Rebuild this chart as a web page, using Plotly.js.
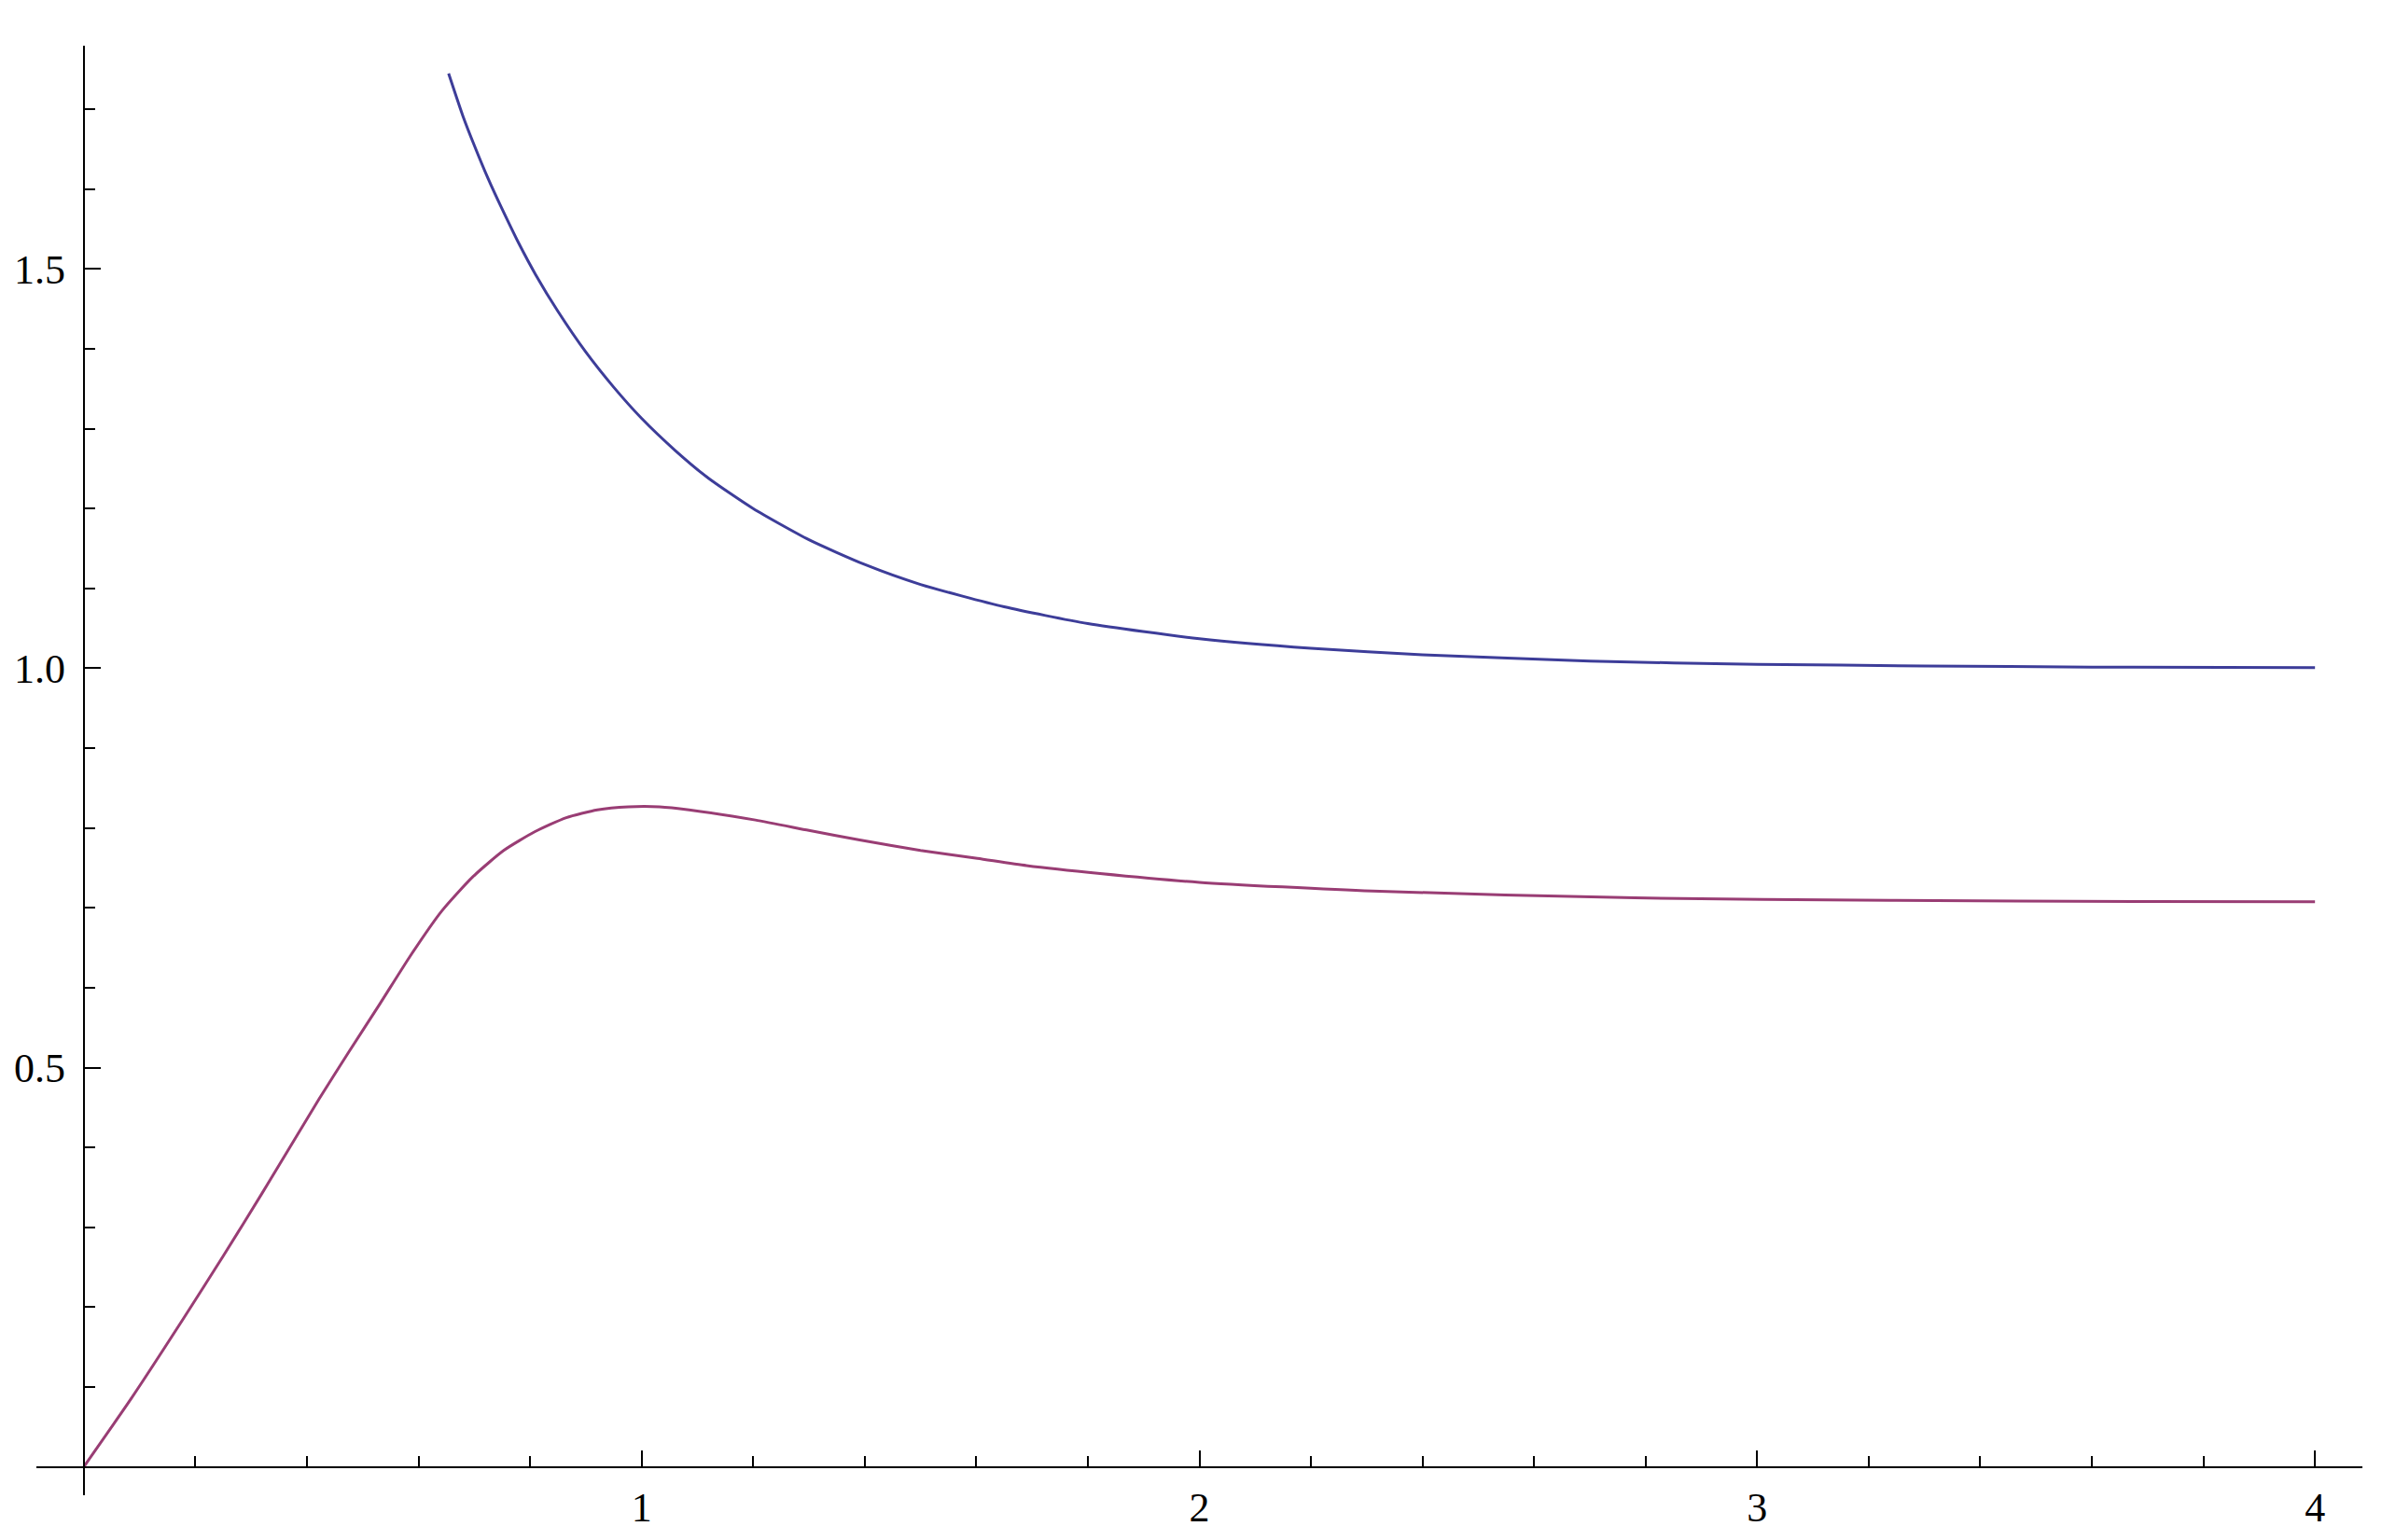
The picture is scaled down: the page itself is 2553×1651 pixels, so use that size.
<!DOCTYPE html>
<html>
<head>
<meta charset="utf-8">
<script src="https://cdn.plot.ly/plotly-3.0.1.min.js"></script>
<style>
  html, body { margin: 0; padding: 0; background: #fff; }
  #plot { width: 2553px; height: 1651px; }
</style>
</head>
<body>
<div id="plot"></div>
<script>
// upper (blue) curve
var blueX = [0.654, 0.68, 0.70, 0.725, 0.75, 0.78, 0.81, 0.85, 0.90, 0.95, 1.0, 1.06, 1.12, 1.2,
             1.3, 1.4, 1.5, 1.65, 1.8, 2.0, 2.2, 2.4, 2.7, 3.0, 3.3, 3.6, 4.0];
var blueY = [1.745, 1.691, 1.655, 1.613, 1.575, 1.532, 1.493, 1.447, 1.396, 1.352, 1.313, 1.273, 1.238, 1.200,
             1.161, 1.130, 1.105, 1.077, 1.056, 1.037, 1.025, 1.017, 1.009, 1.005, 1.003, 1.0015, 1.0007];

// lower (purple) curve
var redX = [0, 0.0855, 0.179, 0.25, 0.32, 0.4217, 0.4746, 0.5304, 0.586, 0.6418, 0.6976, 0.7533, 0.809,
            0.8649, 0.9206, 0.9763, 1.032, 1.085, 1.204, 1.30, 1.391, 1.50, 1.602, 1.69, 1.822, 2.0,
            2.31, 2.78, 3.24, 3.7, 4.0];
var redY = [0, 0.086, 0.186, 0.264, 0.343, 0.4606, 0.519, 0.5793, 0.6405, 0.6961, 0.7390, 0.7721, 0.7955,
            0.8130, 0.8228, 0.8266, 0.8266, 0.8228, 0.810, 0.797, 0.785, 0.772, 0.762, 0.753, 0.743, 0.732,
            0.721, 0.7125, 0.7094, 0.708, 0.7075];

var xTicks = [1, 2, 3, 4];
var xTickText = ['1', '2', '3', '4'];
var yTicks = [0.5, 1.0, 1.5];
var yTickText = ['0.5', '1.0', '1.5'];

var font = { family: 'Liberation Serif, Times New Roman, serif', size: 44, color: '#000' };

var traces = [
  {
    x: blueX, y: blueY, mode: 'lines', type: 'scatter',
    line: { color: '#3d3d99', width: 3, shape: 'spline', smoothing: 0.6 },
    hoverinfo: 'skip'
  },
  {
    x: redX, y: redY, mode: 'lines', type: 'scatter',
    line: { color: '#993d74', width: 3, shape: 'spline', smoothing: 0.6 },
    hoverinfo: 'skip'
  }
];

var layout = {
  width: 2553,
  height: 1651,
  margin: { l: 39, r: 21, t: 49, b: 48 },
  paper_bgcolor: '#ffffff',
  plot_bgcolor: '#ffffff',
  showlegend: false,
  xaxis: {
    range: [-0.085, 4.085],
    anchor: 'free',
    position: 0.0196,
    showline: true, linecolor: '#000', linewidth: 2.5,
    showgrid: false, zeroline: false,
    tickmode: 'array', tickvals: xTicks, ticktext: xTickText,
    ticks: 'inside', ticklen: 17, tickwidth: 2, tickcolor: '#000',
    tickfont: font,
    ticklabelstandoff: 4,
    minor: { dtick: 0.2, tick0: 0, ticks: 'inside', ticklen: 11, tickwidth: 2, tickcolor: '#000', showgrid: false },
    automargin: false
  },
  yaxis: {
    range: [-0.0356, 1.7797],
    anchor: 'free',
    position: 0.0204,
    showline: true, linecolor: '#000', linewidth: 2.5,
    showgrid: false, zeroline: false,
    tickmode: 'array', tickvals: yTicks, ticktext: yTickText,
    ticks: 'inside', ticklen: 17, tickwidth: 2, tickcolor: '#000',
    tickfont: font,
    ticklabelstandoff: 10,
    minor: { dtick: 0.1, tick0: 0, ticks: 'inside', ticklen: 11, tickwidth: 2, tickcolor: '#000', showgrid: false },
    automargin: false
  }
};

Plotly.newPlot('plot', traces, layout, { staticPlot: true, displayModeBar: false });
</script>
</body>
</html>
